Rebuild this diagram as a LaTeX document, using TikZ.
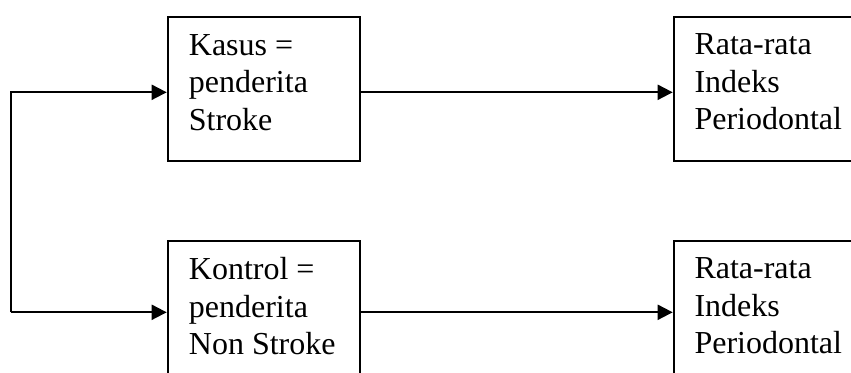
\documentclass[tikz,border=0pt]{standalone}
\usepackage{fontspec}
\setmainfont{Liberation Serif}
\usetikzlibrary{arrows.meta}
\begin{document}
\begin{tikzpicture}[x=1pt,y=-1pt,
  box/.style={draw,line width=2pt,rectangle,anchor=north west,inner sep=0pt},
  txt/.style={anchor=north west,inner sep=0pt,align=left,
    font=\fontsize{32}{37.4}\selectfont},
  conn/.style={line width=2pt,-{Triangle[length=15pt,width=15pt]}}]
  \useasboundingbox (0,0) rectangle (851,372);
  \clip (0,0) rectangle (851,372);

  % boxes
  \node[box,minimum width=192.6pt,minimum height=144.3pt] (kasus) at (166.7,15.7) {};
  \node[box,minimum width=200pt,minimum height=144.3pt] (hasilA) at (672.7,15.7) {};
  \node[box,minimum width=192.6pt,minimum height=150pt] (kontrol) at (166.7,240) {};
  \node[box,minimum width=200pt,minimum height=150pt] (hasilB) at (672.7,240) {};

  % labels
  \node[txt] (tkasus) at ([shift={(22,18.4)}]kasus.north west) {Kasus =\\penderita\\Stroke};
  \node[txt] (thasilA) at ([shift={(21.6,18.1)}]hasilA.north west) {Rata-rata\\Indeks\\Periodontal};
  \node[txt] (tkontrol) at ([shift={(22,17.4)}]kontrol.north west) {Kontrol =\\penderita\\Non Stroke};
  \node[txt] (thasilB) at ([shift={(21.6,17.8)}]hasilB.north west) {Rata-rata\\Indeks\\Periodontal};

  % connectors
  \coordinate (split) at (11,92.3);
  \coordinate (splitB) at (11,312.3);
  \draw[conn] (splitB) -- (split) -- ([yshift=-76.6pt]kasus.north west);
  \draw[conn] (splitB) -- ([yshift=-72.3pt]kontrol.north west);
  \draw[conn] ([yshift=-76.6pt]kasus.north east) -- ([yshift=-76.6pt]hasilA.north west);
  \draw[conn] ([yshift=-72.3pt]kontrol.north east) -- ([yshift=-72.3pt]hasilB.north west);
\end{tikzpicture}
\end{document}
